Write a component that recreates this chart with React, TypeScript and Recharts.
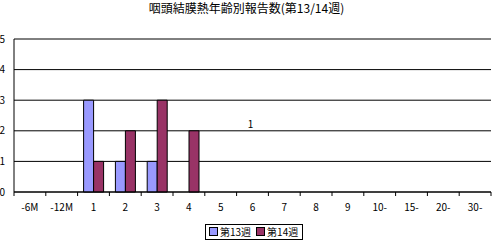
import React from 'react';
import { BarChart, Bar, XAxis, YAxis, CartesianGrid, Legend, ReferenceLine, ReferenceDot } from 'recharts';

const title = '咽頭結膜熱年齢別報告数(第13/14週)';
const categories = ['-6M', '-12M', '1', '2', '3', '4', '5', '6', '7', '8', '9', '10-', '15-', '20-', '30-'];
const week13 = [0, 0, 3, 1, 1, 0, 0, 0, 0, 0, 0, 0, 0, 0, 0];
const week14 = [0, 0, 1, 2, 3, 2, 0, 0, 0, 0, 0, 0, 0, 0, 0];
const seriesNames = ['第13週', '第14週'];
const seriesColors = ['#9999FF', '#993366'];
const yTicks = [0, 1, 2, 3, 4, 5];
const strayLabel = { category: '6', value: 2.2, text: '1' };

const FONT = '"Noto Sans CJK JP", "Noto Sans", sans-serif';
const W = 493;
const H = 246;
const MARGIN = { top: 39, right: 2, left: 0, bottom: 8 };
const Y_W = 14;
const PLOT_W = W - MARGIN.left - MARGIN.right - Y_W;

const data = categories.map((c, i) => ({ cat: c, s13: week13[i], s14: week14[i] }));

const XTick = (props: any) => {
  const { x, y, payload, index } = props;
  const step = PLOT_W / categories.length;
  return (
    <g>
      <line x1={x - step / 2} x2={x - step / 2} y1={y} y2={y + 4} stroke="#000" />
      {index === categories.length - 1 && (
        <line x1={x + step / 2} x2={x + step / 2} y1={y} y2={y + 4} stroke="#000" />
      )}
      <text x={x} y={y + 19} textAnchor="middle" fontSize={10} fontFamily={FONT} fill="#000">
        {payload.value}
      </text>
    </g>
  );
};

const YTick = (props: any) => {
  const { x, y, payload } = props;
  return (
    <text x={x - 9} y={y} dy="0.35em" textAnchor="end" fontSize={10} fontFamily={FONT} fill="#000">
      {payload.value}
    </text>
  );
};

const renderLegend = () => (
  <div
    style={{
      display: 'inline-flex',
      alignItems: 'center',
      border: '1px solid #000',
      background: '#fff',
      height: 14,
      padding: '0 4px 0 3px',
      fontSize: 10,
      fontFamily: FONT,
      color: '#000',
      lineHeight: '14px',
      whiteSpace: 'nowrap',
    }}
  >
    {seriesNames.map((n, i) => (
      <span key={n} style={{ display: 'inline-flex', alignItems: 'center', marginRight: i === 0 ? 5 : 0 }}>
        <span
          style={{
            display: 'inline-block',
            width: 7,
            height: 7,
            background: seriesColors[i],
            border: '1px solid #000',
            marginRight: 2,
          }}
        />
        {n}
      </span>
    ))}
  </div>
);

export default function App() {
  return (
    <div style={{ position: 'absolute', left: 0, top: 0, width: W, height: H, background: '#fff' }}>
      <div
        style={{
          position: 'absolute',
          left: 0,
          top: 1,
          width: W,
          textAlign: 'center',
          fontFamily: FONT,
          fontSize: 12,
          lineHeight: '14px',
          color: '#000',
        }}
      >
        {title}
      </div>
      <BarChart width={W} height={H} data={data} margin={MARGIN} barGap={0} barSize={10}>
        <CartesianGrid xAxisId="x" yAxisId="y" horizontal vertical={false} stroke="#000" />
        <XAxis
          dataKey="cat"
          xAxisId="x"
          tickLine={false}
          tickSize={0}
          tickMargin={0}
          axisLine={{ stroke: '#000' }}
          tick={<XTick />}
          interval={0}
          height={30}
        />
        <YAxis
          yAxisId="y"
          width={Y_W}
          domain={[0, 5]}
          ticks={yTicks}
          tickLine={false}
          tickSize={0}
          tickMargin={0}
          axisLine={{ stroke: '#000' }}
          tick={<YTick />}
          interval={0}
        />
        <YAxis
          yAxisId="r"
          orientation="right"
          width={0}
          tick={false}
          tickLine={false}
          axisLine={{ stroke: '#808080' }}
        />
        <ReferenceLine xAxisId="x" yAxisId="y" y={5} stroke="#808080" />
        <Bar xAxisId="x" yAxisId="y" dataKey="s13" name={seriesNames[0]} fill={seriesColors[0]} stroke="#000" strokeWidth={1} isAnimationActive={false} />
        <Bar xAxisId="x" yAxisId="y" dataKey="s14" name={seriesNames[1]} fill={seriesColors[1]} stroke="#000" strokeWidth={1} isAnimationActive={false} />
        <ReferenceDot
          xAxisId="x"
          yAxisId="y"
          x={strayLabel.category}
          y={strayLabel.value}
          r={0}
          fill="none"
          stroke="none"
          label={{ value: strayLabel.text, position: 'center', fontSize: 10, fontFamily: FONT, fill: '#000', dx: -2 }}
        />
        <Legend
          content={renderLegend}
          wrapperStyle={{ position: 'absolute', left: 205, top: 222, width: 'auto', height: 16 }}
        />
      </BarChart>
    </div>
  );
}
